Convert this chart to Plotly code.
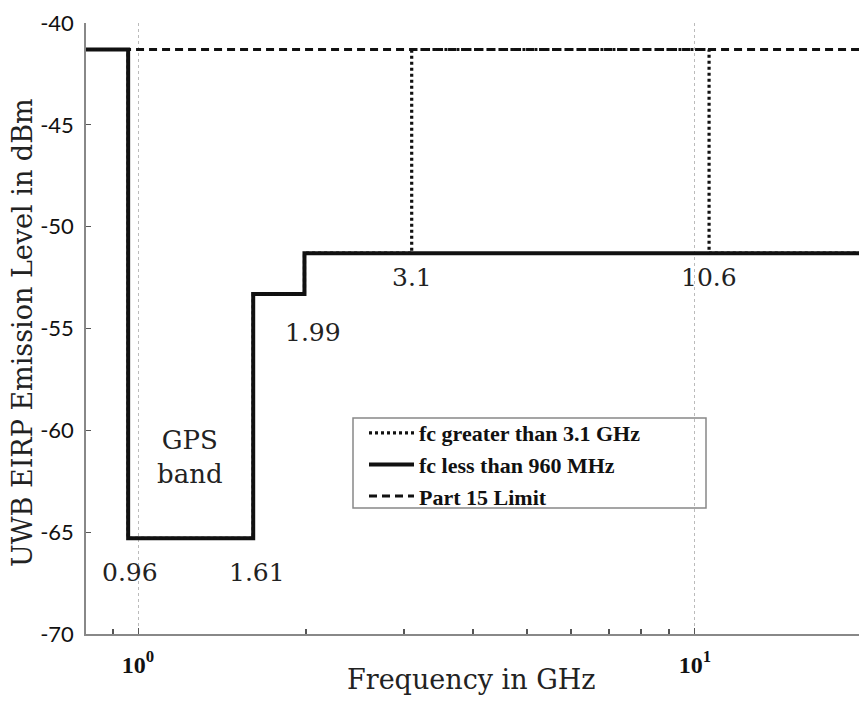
import numpy as np
import plotly.graph_objects as go

# ---- data ----
f_lo, f_hi = 0.8, 20.0                       # GHz, plotted extent
part15_level = -41.3                          # dBm
low_fc_edges = [f_lo, 0.96, 1.61, 1.99, f_hi]
low_fc_levels = [-41.3, -65.3, -53.3, -51.3]
high_fc_edges = [f_lo, 0.96, 1.61, 1.99, 3.1, 10.6, f_hi]
high_fc_levels = [-41.3, -65.3, -53.3, -51.3, -41.3, -51.3]
y_ticks = [-70, -65, -60, -55, -50, -45, -40]
y_ticktext = ["-70", "-65", "-60", "-55", "-50", "-45", "-40"]
x_ticks = [1, 10]
x_ticktext = ["10<sup>0</sup>", "10<sup>1</sup>"]
x_minor = [0.9, 2, 3, 4, 5, 6, 7, 8, 9, 20]
freq_labels = ["0.96", "1.61", "1.99", "3.1", "10.6"]
freq_label_y = [-67.0, -67.0, -55.2, -52.5, -52.5]

W, H = 859, 703
L, R, T, B = 86, 0, 23, 69
pw, ph = W - L - R, H - T - B

def px_x(p):
    return (p - L) / pw

def px_y(p):
    return (H - B - p) / ph

serif = "DejaVu Serif"
fig = go.Figure()

fig.add_trace(go.Scatter(
    x=[f_lo, f_hi], y=[part15_level, part15_level], mode="lines",
    name="Part 15 Limit", legendrank=3,
    line=dict(color="#111", width=3.2, dash="8px,5px")))

fig.add_trace(go.Scatter(
    x=low_fc_edges, y=low_fc_levels + [low_fc_levels[-1]], mode="lines",
    line_shape="hv", name="fc less than 960 MHz", legendrank=2,
    line=dict(color="#111", width=4)))

fig.add_trace(go.Scatter(
    x=high_fc_edges, y=high_fc_levels + [high_fc_levels[-1]], mode="lines",
    line_shape="hv", name="fc greater than 3.1 GHz", legendrank=1,
    line=dict(color="#111", width=3.2, dash="3px,3px")))

# frequency labels
shifts = [2, 4, 9, 0, 0]
for t, yv, s in zip(freq_labels, freq_label_y, shifts):
    fig.add_annotation(x=np.log10(float(t)), y=yv, xref="x", yref="y", text=t,
                       showarrow=False, xshift=s,
                       font=dict(family=serif, size=25, color="#222"))

fig.add_annotation(x=np.log10(1.24), y=-61.3, xref="x", yref="y",
                   text="GPS<br>band", showarrow=False,
                   font=dict(family=serif, size=26, color="#222"))

# axis titles
fig.add_annotation(x=px_x(22), y=px_y(333), xref="paper", yref="paper",
                   text="UWB EIRP Emission Level in dBm", textangle=-90,
                   showarrow=False, xanchor="center", yanchor="middle",
                   font=dict(family=serif, size=27, color="#222"))
fig.add_annotation(x=px_x(471), y=px_y(679), xref="paper", yref="paper",
                   text="Frequency in GHz", showarrow=False,
                   xanchor="center", yanchor="middle",
                   font=dict(family=serif, size=27, color="#222"))

# legend frame
fig.add_shape(type="rect", xref="paper", yref="paper",
              x0=px_x(353), x1=px_x(706), y0=px_y(508), y1=px_y(418),
              line=dict(color="#888", width=1.5), fillcolor="white", layer="below")

fig.update_layout(
    width=W, height=H,
    margin=dict(l=L, r=R, t=T, b=B),
    paper_bgcolor="white", plot_bgcolor="white",
    showlegend=True,
    legend=dict(x=px_x(364), y=px_y(412), xanchor="left", yanchor="top",
                bgcolor="rgba(0,0,0,0)", borderwidth=0, itemwidth=45,
                tracegroupgap=0,
                font=dict(family="Liberation Serif", size=22, color="#111", weight="bold")),
)

fig.update_xaxes(
    type="log", range=[-0.0934, 1.2945],
    tickvals=x_ticks, ticktext=x_ticktext,
    ticks="inside", ticklen=6, tickcolor="#555",
    minor=dict(tickvals=x_minor, ticks="inside", ticklen=5, tickcolor="#555",
               tickwidth=1.5, showgrid=False),
    showgrid=True, gridcolor="#bbb", griddash="dot", gridwidth=1,
    showline=True, linecolor="#888", linewidth=1.5,
    zeroline=False, ticklabelstandoff=8,
    tickfont=dict(family="Liberation Serif", size=24, color="#111", weight="bold"),
)
fig.update_yaxes(
    range=[-70, -40], tickvals=y_ticks, ticktext=y_ticktext,
    ticks="inside", ticklen=5, tickcolor="#555",
    showgrid=False, showline=True, linecolor="#888", linewidth=1.5,
    zeroline=False, ticklabelstandoff=6,
    tickfont=dict(family="Lato", size=22, color="#111"),
)

fig.write_html("out.html")
